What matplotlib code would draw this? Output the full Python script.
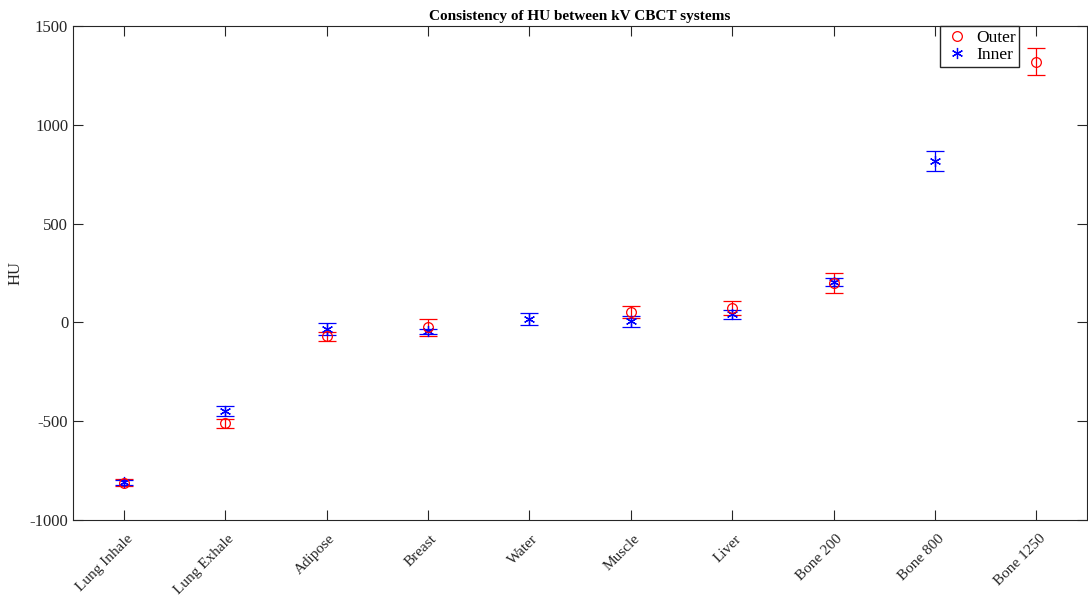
import numpy as np
import matplotlib
matplotlib.use('Agg')
import matplotlib.pyplot as plt
from matplotlib.lines import Line2D
from matplotlib.transforms import ScaledTranslation

plt.rcParams['font.family'] = ['Liberation Serif', 'DejaVu Serif']
plt.rcParams['axes.unicode_minus'] = False

materials = ['Lung Inhale', 'Lung Exhale', 'Adipose', 'Breast', 'Water',
             'Muscle', 'Liver', 'Bone 200', 'Bone 800', 'Bone 1250']

# mean HU and spread for each insert position (nan = not measured)
outer_mean = [-812, -511, -71, -24, np.nan, 51, 72, 201, np.nan, 1320]
outer_err = [18, 21, 24, 43, np.nan, 30, 34, 51, np.nan, 68]
inner_mean = [-810, -450, -33, -45, 16, 6, 41, 205, 818, np.nan]
inner_err = [13, 25, 29, 13, 30, 28, 23, 19, 51, np.nan]

x = np.arange(1, len(materials) + 1)
dark = '#262626'
asterisk = (6, 2, 0)

fig = plt.figure(figsize=(10.88, 5.97), dpi=100)
ax = fig.add_axes([0.0671, 0.129, 0.932, 0.8275])

ax.errorbar(x, outer_mean, yerr=outer_err, fmt='o', color='r', mfc='none',
            ms=7, mew=0.9, elinewidth=0.9, capsize=6.5, capthick=0.9)
ax.errorbar(x, inner_mean, yerr=inner_err, fmt='none', ecolor='b',
            elinewidth=0.9, capsize=6.5, capthick=0.9)
ax.plot(x, inner_mean, ls='none', marker=asterisk, color='b', ms=8, mew=0.9)

ax.set_xlim(0.5, 10.5)
ax.set_ylim(-1000, 1500)
ax.set_xticks(x)
ax.set_xticklabels(materials, rotation=45, ha='right', va='center',
                   rotation_mode='anchor', fontsize=11)
ax.set_yticks(np.arange(-1000, 1501, 500))
ax.tick_params(direction='in', length=7.5, width=0.8, top=True, right=True,
               labelsize=12, colors=dark, labelcolor=dark)
ax.tick_params(axis='x', pad=12, labelsize=11)
# nudge the slanted labels right, like MATLAB does (after tick_params)
shift = ScaledTranslation(0.07, 0.0, fig.dpi_scale_trans)
for lab in ax.get_xticklabels():
    lab.set_transform(lab.get_transform() + shift)
ax.set_ylabel('HU', fontsize=12, color=dark)
ax.set_title('Consistency of HU between kV CBCT systems', fontsize=11,
             fontweight='bold', pad=4)
for s in ax.spines.values():
    s.set_linewidth(0.8)
    s.set_color(dark)

handles = [Line2D([], [], ls='none', marker='o', color='r', mfc='none', ms=7, mew=0.9),
           Line2D([], [], ls='none', marker=asterisk, color='b', ms=8, mew=0.9)]
ax.legend(handles, ['Outer', 'Inner'], loc='upper right',
          bbox_to_anchor=(0.933, 1.0), fontsize=12.5, fancybox=False,
          edgecolor=dark, framealpha=1, borderpad=0.2, borderaxespad=0,
          handletextpad=0.3, labelspacing=0.1, handlelength=1.6)

fig.savefig('out.png', dpi=100)
